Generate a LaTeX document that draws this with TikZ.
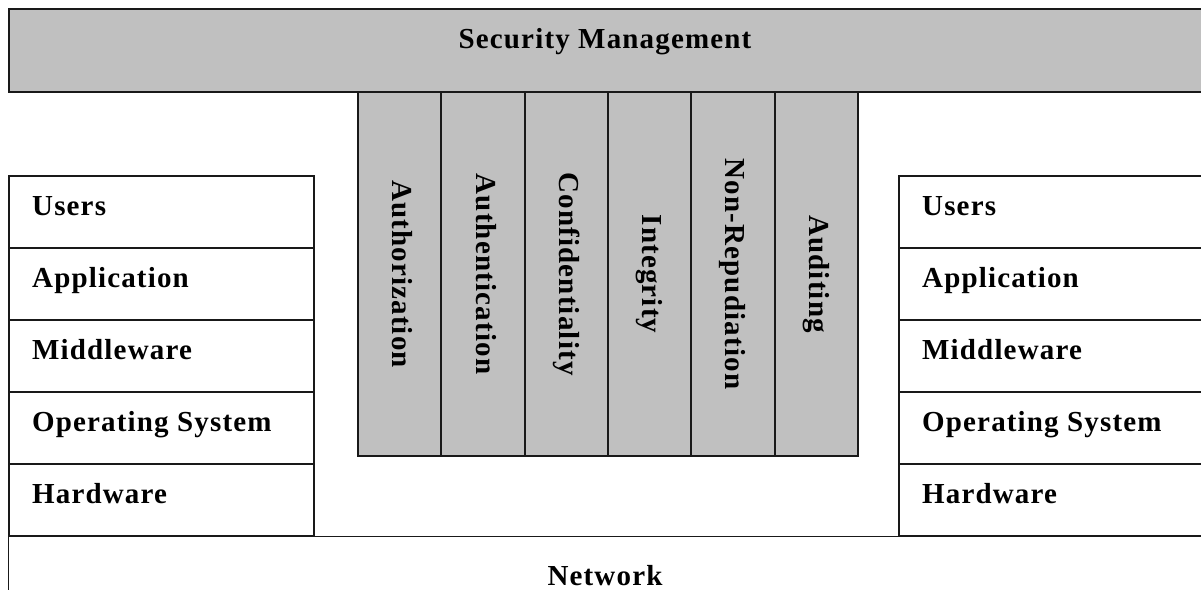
\documentclass[tikz,border=0pt]{standalone}
\usepackage{fontspec}
\setmainfont{Liberation Serif}[LetterSpace=4]
\usetikzlibrary{positioning}

\definecolor{panelgray}{RGB}{192,192,192}
\newcommand{\lblfont}{\fontsize{29}{34}\selectfont\bfseries}

\tikzset{
    box/.style={rectangle, draw=black!90, line width=2pt, inner sep=0pt, anchor=north west},
    shaded/.style={box, fill=panelgray},
    lbl/.style={font=\lblfont, inner sep=0pt, anchor=base west}
}

\begin{document}
\begin{tikzpicture}[x=1pt, y=-1pt]
        \useasboundingbox (0,0) rectangle (1201,589);
        \clip (0,0) rectangle (1201,589);
        % network layer along the bottom
        \node[box, line width=1.3pt, minimum width=1210pt, minimum height=80pt] (net) at (8,536) {};
        \node[lbl, anchor=base] (netlbl) at (605,585) {Network};
        % management bar on top
        \node[shaded, minimum width=1210pt, minimum height=83pt] (secmgmt) at (8,8) {};
        \node[lbl, anchor=base] (secmgmtlbl) at (605,48) {Security Management};
        % security services
        \foreach \name [count=\i from 0] in {Authorization, Authentication, Confidentiality, Integrity, Non-Repudiation, Auditing} {
            \node[shaded, minimum width=83.33pt, minimum height=364pt] (col\i) at (357+83.33*\i, 91) {};
            \node[lbl, anchor=center, rotate=-90, text height=20pt, text depth=6pt] (collbl\i) at (col\i.center) {\name};
        }
        % the two layer stacks
        \foreach \txt [count=\i from 0] in {Users, Application, Middleware, Operating System, Hardware} {
            \node[box, fill=white, minimum width=305pt, minimum height=72pt] (left\i) at (8, 175+72*\i) {};
            \node[lbl] (leftlbl\i) at ([xshift=24pt, yshift=-40pt] left\i.north west) {\txt};
            \node[box, fill=white, minimum width=320pt, minimum height=72pt] (right\i) at (898, 175+72*\i) {};
            \node[lbl] (rightlbl\i) at ([xshift=24pt, yshift=-40pt] right\i.north west) {\txt};
        }
    \end{tikzpicture}
\end{document}
